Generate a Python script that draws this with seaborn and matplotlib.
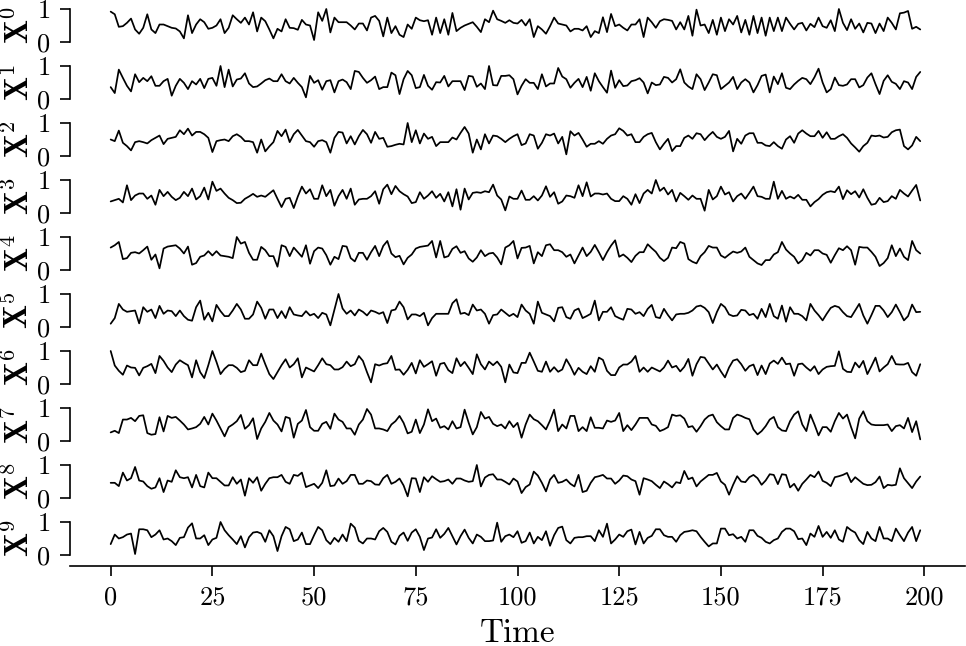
import numpy as np
import pandas as pd
import matplotlib
matplotlib.use("Agg")
import matplotlib.pyplot as plt
import seaborn as sns

# ---- data ----
time = list(range(200))

x0 = [.92,.84,.46,.48,.58,.71,.38,.25,.43,.84,.38,.27,.53,.53,.48,.43,.41,.32,.11,.81,.27,.53,.69,.60,.40,.43,.50,.69,.27,.43,.81,.69,
      .58,.74,.53,.90,.32,.74,.63,.38,.11,.40,.32,.69,.43,.42,.37,.67,.53,.50,.06,.90,.64,1.0,.29,.74,.60,.60,.60,.50,.38,.56,.56,.35,.74,.79,
      .64,.17,.74,.27,.48,.22,.15,.53,.40,.74,.66,.63,.66,.22,.74,.27,.69,.22,.88,.33,.43,.50,.55,.60,.46,.30,.69,.60,.95,.69,.64,.58,.66,.58,
      .56,.67,.50,.69,.15,.48,.38,.25,.48,.74,.56,.53,.50,.32,.40,.40,.35,.48,.15,.33,.27,.75,.30,.85,.48,.53,.43,.35,.53,.53,.69,.15,.74,.60,
      .43,.63,.69,.67,.64,.38,.60,.38,.79,.19,.98,.50,.53,.27,.67,.22,.74,.33,.69,.53,.79,.29,.67,.22,.79,.27,.74,.19,.74,.33,.74,.33,.74,.55,
      .38,.55,.58,.35,.55,.45,.74,.48,.43,.66,.33,1.0,.58,.36,.69,.40,.56,.29,.58,.56,.27,.56,.33,.74,.58,.38,.87,.89,.94,.40,.46,.38]

x1 = [.36,.18,.89,.64,.40,.23,.75,.51,.64,.54,.69,.40,.40,.54,.61,.10,.40,.61,.49,.30,.54,.44,.61,.33,.61,.64,.40,1.0,.36,.89,.38,.59,
      .62,.78,.47,.36,.38,.47,.57,.62,.54,.54,.75,.54,.47,.64,.49,.36,.05,.70,.49,.57,.28,.54,.57,.20,.54,.59,.51,.30,.85,.82,.64,.49,.57,.68,
      .30,.36,.36,.80,.72,.15,.60,.85,.72,.33,.36,.73,.40,.28,.51,.50,.70,.38,.54,.54,.54,.27,.70,.68,.37,.47,.30,1.0,.42,.41,.70,.70,.72,.60,
      .14,.40,.60,.49,.49,.30,.75,.38,.47,.47,.94,.68,.60,.34,.49,.61,.36,.67,.25,.78,.54,.36,.19,.86,.34,.57,.39,.41,.54,.57,.63,.50,.17,.50,
      .42,.44,.67,.64,.50,.60,.90,.50,.38,.30,.75,.60,.27,.50,.75,.72,.30,.40,.50,.67,.30,.50,.60,.50,.20,.42,.70,.74,.20,.68,.45,.78,.34,.30,
      .44,.55,.64,.60,.45,.66,.92,.50,.20,.30,.65,.42,.40,.44,.60,.60,.35,.42,.65,.78,.45,.15,.55,.72,.52,.46,.30,.54,.50,.30,.67,.82]

x2 = [.50,.45,.77,.40,.30,.17,.42,.45,.42,.38,.48,.55,.62,.36,.52,.55,.58,.78,.66,.83,.62,.73,.73,.66,.55,.12,.45,.48,.50,.45,.60,.66,
      .58,.45,.45,.42,.10,.50,.14,.29,.42,.76,.60,.80,.42,.66,.79,.62,.45,.42,.28,.45,.48,.42,.10,.55,.73,.71,.38,.60,.35,.60,.79,.66,.40,.73,
      .52,.55,.28,.30,.34,.37,.35,1.0,.42,.78,.38,.68,.52,.58,.30,.42,.42,.42,.56,.50,.70,.88,.68,.10,.50,.20,.66,.38,.62,.60,.52,.42,.52,.60,
      .66,.33,.38,.66,.62,.22,.40,.66,.62,.68,.38,.58,.05,.75,.62,.70,.50,.28,.37,.37,.45,.37,.52,.62,.66,.84,.76,.62,.66,.42,.42,.58,.66,.70,
      .42,.20,.37,.52,.15,.30,.30,.55,.62,.52,.69,.66,.48,.62,.73,.58,.52,.58,.76,.14,.52,.37,.62,.69,.69,.40,.40,.32,.30,.42,.30,.22,.50,.60,
      .40,.68,.78,.68,.60,.60,.76,.55,.72,.52,.52,.60,.66,.55,.38,.26,.13,.30,.40,.62,.60,.62,.56,.58,.72,.78,.80,.30,.20,.32,.58,.45]

x3 = [.35,.39,.43,.32,.84,.39,.53,.59,.59,.43,.53,.25,.70,.51,.64,.49,.39,.46,.64,.51,.74,.41,.51,.77,.41,.95,.67,.74,.59,.46,.39,.30,
      .31,.43,.50,.58,.49,.53,.49,.59,.69,.43,.18,.43,.46,.15,.50,.80,.59,.72,.43,.43,.84,.51,.70,.22,.51,.70,.43,.74,.25,.41,.43,.43,.51,.66,
      .28,.72,.86,.57,.82,.66,.57,.50,.30,.33,.63,.43,.53,.66,.46,.58,.35,.63,.20,.72,.10,.74,.41,.61,.63,.61,.66,.63,.86,.53,.41,.08,.50,.43,
      .43,.68,.40,.40,.51,.38,.53,.81,.49,.63,.28,.35,.53,.51,.46,.84,.51,.93,.50,.59,.59,.56,.59,.43,.36,.36,.51,.43,.25,.57,.30,.59,.70,.59,
      1.0,.67,.77,.56,.70,.35,.61,.51,.40,.53,.43,.43,.07,.70,.41,.51,.80,.56,.63,.35,.51,.59,.43,.61,.80,.51,.49,.43,.43,.95,.43,.67,.43,.50,
      .44,.55,.40,.40,.20,.33,.42,.55,.63,.66,.63,.80,.42,.69,.57,.66,.47,.72,.46,.25,.28,.46,.33,.36,.51,.43,.70,.59,.50,.68,.85,.38]

x4 = [.68,.75,.85,.33,.36,.52,.54,.50,.60,.71,.31,.47,.05,.65,.71,.73,.75,.65,.50,.71,.16,.21,.40,.44,.57,.44,.57,.44,.42,.40,.36,1.0,
      .80,.85,.52,.31,.31,.70,.60,.42,.42,.10,.75,.70,.42,.68,.54,.40,.75,.19,.57,.68,.65,.45,.16,.40,.33,.73,.71,.36,.26,.52,.52,.31,.54,.73,
      .42,.73,.88,.50,.39,.43,.17,.37,.47,.65,.70,.72,.74,.88,.38,.88,.38,.42,.64,.72,.52,.57,.35,.25,.38,.60,.42,.50,.52,.38,.17,.68,.75,.88,
      .35,.67,.68,.73,.20,.54,.42,.75,.78,.60,.60,.54,.40,.47,.20,.44,.68,.42,.55,.76,.54,.30,.54,.74,.90,.40,.47,.37,.24,.43,.54,.54,.78,.66,
      .55,.37,.27,.37,.68,.66,.85,.80,.33,.25,.20,.42,.54,.73,.68,.68,.44,.37,.47,.56,.52,.56,.68,.40,.30,.20,.15,.30,.30,.47,.54,.85,.62,.50,
      .40,.20,.30,.52,.44,.60,.60,.50,.46,.22,.45,.66,.60,.72,.60,.16,.70,.68,.68,.55,.40,.12,.21,.36,.75,.42,.65,.40,.30,.88,.60,.50]

x5 = [.10,.27,.70,.53,.46,.48,.50,.11,.60,.46,.53,.27,.64,.40,.50,.48,.33,.50,.33,.22,.19,.60,.80,.22,.43,.17,.67,.48,.33,.33,
      .50,.70,.53,.25,.25,.38,.77,.58,.25,.53,.53,.27,.48,.27,.60,.38,.35,.33,.48,.35,.40,.27,.43,.38,.05,.53,1.0,.56,.40,.50,
      .35,.53,.46,.35,.50,.46,
      .40,.45,.12,.50,.53,.77,.60,.23,.38,.38,.33,.43,.05,.27,.40,.40,.40,.40,.72,.84,.40,.43,.36,.68,.50,.53,.40,.10,.36,.38,
      .53,.43,.33,.40,.30,.68,.50,.40,.10,.77,.43,.38,.33,.17,.58,.60,.30,.25,.50,.56,.27,.33,.40,.80,.20,.46,.46,.60,.33,.27,
      .22,.55,.53,.40,.45,.33,.55,.67,
      .30,.27,.55,.36,.20,.38,.40,.40,.43,.50,.62,.65,.58,.45,.12,.45,.70,.60,.38,.33,.35,.52,.50,.36,.40,.25,.55,.30,.70,.33,
      .25,.65,.16,.60,.40,.40,.33,.20,.70,.50,.36,.20,.40,.58,.64,.60,.45,.33,.30,.50,.70,.35,.10,.36,.64,.64,.50,.30,.45,.68,
      .45,.20,.33,.68,.45,.46]

x6 = [1.0,.56,.40,.28,.56,.50,.49,.26,.49,.54,.61,.33,.85,.70,.50,.36,.59,.72,.64,.57,.20,.72,.36,.18,.57,1.0,.67,.30,.46,.57,
      .57,.49,.36,.40,.72,.57,.57,.92,.60,.30,.15,.36,.57,.75,.50,.60,.78,.20,.50,.44,.38,.57,.78,.60,.57,.44,.44,.51,.68,.54,
      .60,.85,.70,.36,.05,.60,
      .56,.61,.63,.85,.43,.44,.28,.43,.64,.32,.72,.52,.60,.69,.25,.61,.64,.42,.33,.78,.54,.67,.49,.30,.90,.60,.44,.68,.57,.68,
      .52,.05,.59,.35,.33,.64,.64,.95,.68,.40,.37,.68,.37,.51,.37,.44,.75,.54,.28,.49,.37,.30,.54,.37,.80,.73,.40,.27,.27,.50,
      .59,.59,.68,.85,.37,.50,.37,.50,
      .44,.38,.50,.71,.50,.55,.38,.52,.76,.25,.60,.82,.80,.62,.44,.59,.38,.20,.50,.71,.75,.60,.40,.54,.59,.27,.56,.30,.62,.71,
      .61,.80,.60,.62,.25,.60,.62,.50,.40,.54,.30,.44,.52,.54,.55,.99,.46,.37,.36,.65,.50,.70,.30,.54,.80,.38,.50,.60,.85,.60,
      .59,.59,.64,.36,.25,.60]

x7 = [.26,.31,.24,.65,.65,.70,.60,.76,.78,.24,.19,.21,.72,.29,.76,.70,.73,.62,.50,.35,.38,.42,.52,.73,.50,.83,.62,.38,.14,.42,
      .50,.60,.79,.37,.48,.69,.06,.38,.58,.85,.62,.50,.29,.73,.69,.10,.52,.62,.94,.42,.31,.31,.52,.58,.37,.83,.65,.58,.38,.38,
      .19,.50,.65,.97,.80,.38,
      .38,.35,.30,.50,.60,.76,.55,.23,.28,.65,.24,.50,.96,.60,.68,.40,.45,.35,.60,.38,.42,.95,.55,.20,.42,.88,.68,.73,.52,.45,
      .50,.38,.60,.42,.55,.10,.50,.80,.66,.60,.48,.35,.62,.95,.30,.50,.38,.76,.76,.30,.42,.30,.72,.40,.40,.38,.62,.58,.62,.85,
      .30,.48,.33,.50,.70,.70,.70,.50,
      .46,.30,.35,.42,.80,.76,.78,.68,.42,.45,.28,.45,.65,.76,.80,.57,.45,.35,.35,.70,.80,.76,.70,.66,.35,.20,.30,.45,.65,.73,
      .42,.32,.30,.60,.80,.90,.50,.30,.80,.50,.17,.42,.42,.28,.60,.85,.68,.80,.42,.08,.68,.90,.60,.50,.48,.48,.48,.50,.30,.45,
      .48,.38,.70,.27,.60,.05]

x8 = [.46,.46,.36,.77,.53,.60,.94,.53,.50,.36,.28,.32,.60,.18,.53,.49,.84,.63,.60,.63,.32,.70,.36,.32,.77,.60,.60,.49,.38,.38,
      .63,.43,.56,.07,.60,.46,.63,.22,.43,.60,.63,.63,.70,.49,.43,.70,.67,.77,.33,.38,.43,.30,.46,.84,.36,.38,.59,.43,.51,.70,
      .70,.43,.43,.53,.51,.41,
      .40,.60,.70,.43,.49,.59,.38,.05,.60,.59,.18,.63,.49,.66,.57,.49,.51,.56,.43,.59,.59,.53,.49,.51,1.0,.35,.62,.70,.72,.56,
      .56,.49,.41,.59,.50,.15,.33,.41,.80,.68,.46,.20,.56,.70,.46,.49,.56,.43,.35,.70,.18,.22,.46,.63,.66,.70,.59,.59,.43,.53,
      .68,.66,.56,.51,.10,.60,.56,.51,
      .40,.30,.50,.42,.32,.48,.45,.82,.57,.62,.35,.50,.60,.70,.70,.76,.50,.40,.10,.40,.66,.50,.48,.63,.70,.60,.40,.53,.72,.70,
      .42,.72,.70,.32,.43,.22,.43,.56,.70,.63,.80,.52,.46,.36,.63,.66,.70,.76,.48,.63,.53,.43,.39,.40,.48,.65,.30,.40,.38,.40,
      .90,.60,.45,.30,.50,.65]

x9 = [.33,.62,.50,.54,.62,.65,.03,.78,.78,.75,.54,.62,.75,.47,.50,.42,.30,.52,.54,.83,.96,.50,.50,.60,.30,.47,.52,1.0,.75,.60,
      .47,.33,.57,.23,.54,.68,.70,.65,.40,.75,.57,.12,.57,.85,.78,.42,.47,.68,.33,.33,.60,.85,.75,.45,.33,.52,.40,.62,.42,.95,
      .83,.43,.35,.50,.50,.47,
      .72,.82,.70,.40,.32,.58,.68,.43,.68,.78,.55,.15,.50,.53,.78,.52,.64,.82,.57,.32,.57,.77,.52,.35,.62,.55,.42,.42,.44,.98,
      .40,.57,.62,.54,.72,.37,.42,.68,.35,.55,.45,.72,.28,.60,.82,.86,.45,.35,.52,.54,.54,.57,.57,.42,.75,.55,.95,.35,.47,.62,
      .55,.72,.77,.32,.70,.35,.52,.58,
      .78,.78,.60,.55,.55,.40,.60,.70,.72,.75,.72,.55,.40,.26,.35,.35,.80,.80,.60,.63,.50,.55,.40,.75,.75,.58,.52,.40,.35,.45,
      .50,.70,.80,.80,.72,.48,.50,.30,.65,.55,.88,.55,.70,.52,.75,.47,.40,.85,.75,.68,.45,.33,.70,.50,.42,.85,.50,.50,.42,.80,
      .60,.42,.68,.85,.42,.75]

series = [x0, x1, x2, x3, x4, x5, x6, x7, x8, x9]
row_labels = [r"$\mathbf{X}^{%d}$" % i for i in range(10)]
x_ticks = [0, 25, 50, 75, 100, 125, 150, 175, 200]
y_ticks = [0, 1]
x_label = "Time"

# ---- style ----
sns.set_style("ticks")
plt.rcParams["font.family"] = "serif"
plt.rcParams["font.serif"] = ["cmr10", "DejaVu Serif"]
plt.rcParams["mathtext.fontset"] = "cm"
plt.rcParams["axes.formatter.use_mathtext"] = True
plt.rcParams["axes.unicode_minus"] = False
for k in ["text.color", "axes.labelcolor", "xtick.color", "ytick.color", "axes.edgecolor"]:
    plt.rcParams[k] = "black"

W, H = 966, 646
fig = plt.figure(figsize=(W / 100, H / 100), dpi=100)

left_px, right_px = 70, 965
span_px = 33.0      # pixels from value 0 to value 1
ylo, yhi = -0.05, 1.05
ax_h = span_px * (yhi - ylo)
ax_w = right_px - left_px

for i, vals in enumerate(series):
    y0 = 42 + 57 * i                      # pixel row for value 0
    bottom_px = y0 + span_px * (0 - ylo)
    ax = fig.add_axes([left_px / W, 1 - bottom_px / H, ax_w / W, ax_h / H])
    df = pd.DataFrame({"t": time, "v": vals})
    sns.lineplot(data=df, x="t", y="v", ax=ax, color="black", linewidth=1.25)
    ax.set_xlim(-10, 210)
    ax.set_ylim(ylo, yhi)
    ax.set_yticks(y_ticks)
    ax.set_yticklabels([str(v) for v in y_ticks])
    ax.spines["top"].set_visible(False)
    ax.spines["right"].set_visible(False)
    ax.spines["left"].set_bounds(0, 1)
    ax.spines["left"].set_linewidth(1.2)
    ax.tick_params(axis="y", length=7, width=1.2, labelsize=19, pad=7)
    ax.set_ylabel(row_labels[i], fontsize=23)
    ax.yaxis.set_label_coords((35 - left_px) / ax_w, 0.5)
    ax.set_facecolor("none")
    if i < len(series) - 1:
        ax.spines["bottom"].set_visible(False)
        ax.set_xticks([])
        ax.set_xlabel("")
    else:
        ax.spines["bottom"].set_position(("outward", 6.7))
        ax.spines["bottom"].set_linewidth(1.2)
        ax.set_xticks(x_ticks)
        ax.set_xticklabels([str(v) for v in x_ticks])
        ax.tick_params(axis="x", length=7, width=1.2, labelsize=19, pad=7)
        ax.set_xlabel(x_label, fontsize=24, labelpad=7)

fig.savefig("out.png", dpi=100, facecolor="white")
